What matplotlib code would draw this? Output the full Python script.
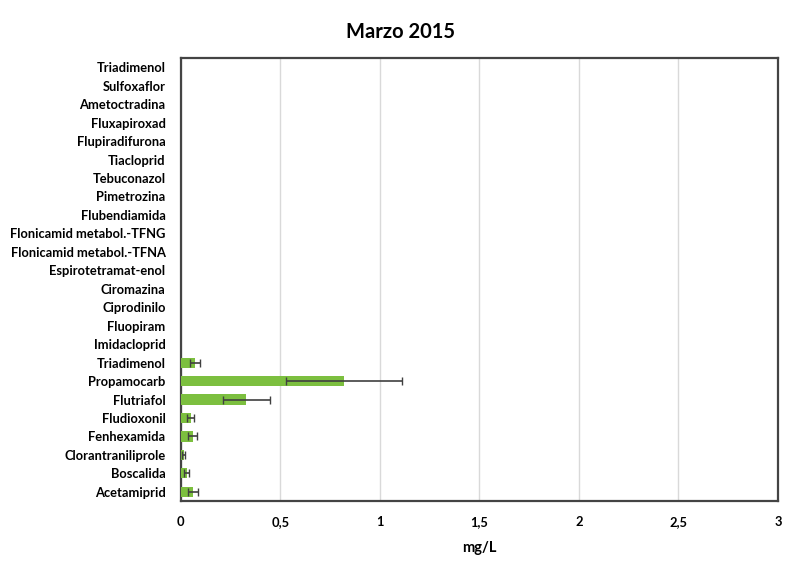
import matplotlib
matplotlib.use("Agg")
import matplotlib.pyplot as plt
from matplotlib.ticker import FuncFormatter

plt.rcParams["font.family"] = ["Lato", "DejaVu Sans"]

# categories from bottom to top
compuestos = [
    "Acetamiprid", "Boscalida", "Clorantraniliprole", "Fenhexamida",
    "Fludioxonil", "Flutriafol", "Propamocarb", "Triadimenol",
    "Imidacloprid", "Fluopiram", "Ciprodinilo", "Ciromazina",
    "Espirotetramat-enol", "Flonicamid metabol.-TFNA",
    "Flonicamid metabol.-TFNG", "Flubendiamida", "Pimetrozina",
    "Tebuconazol", "Tiacloprid", "Flupiradifurona", "Fluxapiroxad",
    "Ametoctradina", "Sulfoxaflor", "Triadimenol",
]
media = [0.06, 0.03, 0.015, 0.06, 0.05, 0.33, 0.82, 0.07,
         0, 0, 0, 0, 0, 0, 0, 0, 0, 0, 0, 0, 0, 0, 0, 0]
error = [0.025, 0.012, 0.008, 0.022, 0.018, 0.116, 0.29, 0.025,
         0, 0, 0, 0, 0, 0, 0, 0, 0, 0, 0, 0, 0, 0, 0, 0]
ticks_x = [0, 0.5, 1, 1.5, 2, 2.5, 3]

fig = plt.figure(figsize=(8, 5.72), dpi=100)
ax = fig.add_axes([0.226, 0.124, 0.7465, 0.7746])

pos = list(range(len(compuestos)))
ax.barh(pos, media, height=0.55, color="#7cbf3f", zorder=3)
ax.errorbar([m for m, e in zip(media, error) if e > 0],
            [p for p, e in zip(pos, error) if e > 0],
            xerr=[e for e in error if e > 0],
            fmt="none", ecolor="#404040", elinewidth=1.2, capsize=3,
            capthick=1, zorder=4)

ax.set_xlim(0, 3)
ax.set_ylim(-0.5, len(compuestos) - 0.5)
ax.set_xticks(ticks_x)
ax.xaxis.set_major_formatter(FuncFormatter(lambda v, p: f"{v:g}".replace(".", ",")))
ax.set_yticks(pos)
ax.set_yticklabels(compuestos)
ax.tick_params(axis="both", length=0, labelsize=9.3, colors="black")
ax.tick_params(axis="x", pad=11)
ax.tick_params(axis="y", pad=11)
for lab in ax.get_xticklabels() + ax.get_yticklabels():
    lab.set_fontweight("bold")

ax.grid(axis="x", color="#d9d9d9", linewidth=1, zorder=0)
for s in ax.spines.values():
    s.set_color("#444444")
    s.set_linewidth(1.6)

ax.set_xlabel("mg/L", fontsize=10.5, fontweight="bold", labelpad=9)
fig.suptitle("Marzo 2015", fontsize=14.5, fontweight="bold", y=0.962)

fig.savefig("out.png", dpi=100, facecolor="white")
